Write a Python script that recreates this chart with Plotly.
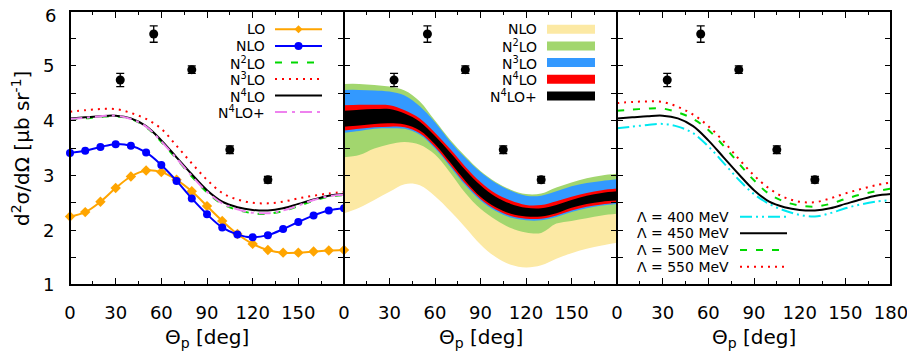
import plotly.graph_objects as go

# ---------------- data ----------------
theta = [0, 10, 20, 30, 40, 50, 60, 70, 80, 90, 100, 110, 120, 130, 140, 150, 160, 170, 180]

# left panel: order-by-order predictions
lo    = [2.25, 2.33, 2.52, 2.77, 2.98, 3.09, 3.06, 2.92, 2.71, 2.44, 2.17, 1.93, 1.75, 1.64, 1.59, 1.59, 1.61, 1.63, 1.64]
nlo   = [3.41, 3.45, 3.52, 3.57, 3.54, 3.42, 3.19, 2.90, 2.58, 2.29, 2.05, 1.92, 1.87, 1.91, 2.02, 2.15, 2.27, 2.36, 2.40]
n2lo  = [4.02, 4.04, 4.07, 4.08, 4.03, 3.88, 3.61, 3.30, 2.98, 2.69, 2.48, 2.37, 2.31, 2.30, 2.35, 2.44, 2.54, 2.61, 2.64]
n3lo  = [4.16, 4.19, 4.21, 4.21, 4.14, 4.03, 3.85, 3.54, 3.22, 2.92, 2.68, 2.56, 2.50, 2.49, 2.52, 2.58, 2.63, 2.67, 2.70]
n4lo  = [4.04, 4.06, 4.08, 4.09, 4.04, 3.90, 3.64, 3.33, 3.02, 2.73, 2.52, 2.42, 2.37, 2.36, 2.40, 2.48, 2.56, 2.63, 2.66]
n4lop = [4.03, 4.05, 4.08, 4.09, 4.03, 3.89, 3.62, 3.31, 2.99, 2.70, 2.49, 2.38, 2.32, 2.31, 2.36, 2.45, 2.55, 2.62, 2.65]

# middle panel: truncation-error bands (low / high edges)
nlo_band_lo   = [2.31, 2.41, 2.55, 2.70, 2.84, 2.82, 2.62, 2.35, 2.05, 1.74, 1.51, 1.37, 1.32, 1.36, 1.48, 1.58, 1.66, 1.72, 1.77]
nlo_band_hi   = [4.60, 4.60, 4.58, 4.55, 4.48, 4.28, 3.98, 3.63, 3.32, 3.06, 2.86, 2.71, 2.62, 2.62, 2.70, 2.80, 2.87, 2.92, 2.95]
n2lo_band_lo  = [3.33, 3.37, 3.49, 3.57, 3.61, 3.56, 3.38, 3.05, 2.68, 2.39, 2.19, 2.04, 1.96, 1.95, 2.12, 2.17, 2.22, 2.27, 2.30]
n2lo_band_hi  = [4.67, 4.67, 4.65, 4.62, 4.55, 4.35, 4.00, 3.65, 3.35, 3.08, 2.88, 2.74, 2.66, 2.67, 2.78, 2.87, 2.95, 3.00, 3.03]
n3lo_band_lo  = [3.78, 3.81, 3.85, 3.86, 3.85, 3.74, 3.49, 3.16, 2.82, 2.54, 2.35, 2.23, 2.18, 2.18, 2.24, 2.33, 2.40, 2.45, 2.48]
n3lo_band_hi  = [4.56, 4.56, 4.55, 4.53, 4.46, 4.26, 3.97, 3.62, 3.32, 3.06, 2.86, 2.72, 2.63, 2.63, 2.71, 2.80, 2.86, 2.90, 2.93]
n4lo_band_lo  = [3.82, 3.85, 3.88, 3.89, 3.88, 3.77, 3.52, 3.19, 2.85, 2.57, 2.38, 2.26, 2.21, 2.21, 2.27, 2.36, 2.43, 2.47, 2.50]
n4lo_band_hi  = [4.28, 4.29, 4.29, 4.28, 4.19, 4.04, 3.78, 3.48, 3.16, 2.88, 2.67, 2.54, 2.46, 2.46, 2.53, 2.61, 2.68, 2.73, 2.76]
n4lop_band_lo = [3.89, 3.91, 3.94, 3.95, 3.93, 3.82, 3.57, 3.24, 2.90, 2.61, 2.42, 2.30, 2.25, 2.25, 2.31, 2.41, 2.48, 2.52, 2.54]
n4lop_band_hi = [4.18, 4.20, 4.21, 4.21, 4.13, 3.98, 3.72, 3.42, 3.10, 2.82, 2.61, 2.48, 2.41, 2.40, 2.46, 2.55, 2.63, 2.68, 2.71]

# right panel: cutoff dependence
lam400 = [3.86, 3.89, 3.92, 3.94, 3.89, 3.77, 3.53, 3.23, 2.92, 2.66, 2.48, 2.36, 2.28, 2.25, 2.31, 2.40, 2.47, 2.52, 2.55]
lam450 = [4.04, 4.06, 4.08, 4.09, 4.04, 3.90, 3.64, 3.33, 3.02, 2.73, 2.52, 2.42, 2.37, 2.36, 2.40, 2.48, 2.56, 2.63, 2.66]
lam500 = [4.18, 4.20, 4.22, 4.22, 4.15, 4.03, 3.83, 3.54, 3.22, 2.91, 2.66, 2.52, 2.45, 2.43, 2.48, 2.57, 2.65, 2.71, 2.76]
lam550 = [4.32, 4.34, 4.35, 4.34, 4.25, 4.11, 3.90, 3.62, 3.30, 3.00, 2.76, 2.60, 2.52, 2.51, 2.58, 2.67, 2.75, 2.82, 2.87]

# experimental data
exp_theta = [33, 55, 80, 105, 130]
exp_val   = [4.74, 5.58, 4.93, 3.47, 2.92]
exp_err   = [0.12, 0.15, 0.07, 0.07, 0.06]

# ticks / labels
x_tickvals_ab = [0, 30, 60, 90, 120, 150]
x_tickvals_c  = [0, 30, 60, 90, 120, 150, 180]
x_minor       = [15, 45, 75, 105, 135, 165]
y_tickvals    = [1, 1.5, 2, 2.5, 3, 3.5, 4, 4.5, 5, 5.5, 6]
y_ticktext    = ["1", "", "2", "", "3", "", "4", "", "5", "", ""]
y_top_label   = "6"          # drawn separately so it is not cut by the page edge

legend1 = ["LO", "NLO", "N<sup>2</sup>LO", "N<sup>3</sup>LO", "N<sup>4</sup>LO", "N<sup>4</sup>LO+"]
legend2 = ["NLO", "N<sup>2</sup>LO", "N<sup>3</sup>LO", "N<sup>4</sup>LO", "N<sup>4</sup>LO+"]
legend3 = ["Λ = 400 MeV", "Λ = 450 MeV", "Λ = 500 MeV", "Λ = 550 MeV"]

# ---------------- styling ----------------
FONT = "DejaVu Sans"
OFF = 8                      # page offset of the figure (body margin)
W, H = 915 - OFF, 354 - OFF
PL, PR, PT, PB = 70, 891, 11, 285   # plot area in page pixels
ML, MR, MT, MB = PL - OFF, W - (PR - OFF), PT - OFF, H - (PB - OFF)
PW = PR - PL
PH = PB - PT
b1 = (344 - PL) / PW
b2 = (617 - PL) / PW

def xp(px):
    return (px - PL) / PW

def yp(py):
    return (PB - py) / PH

C_LO = "#FFA500"
C_NLO = "#0000FF"
C_N2 = "#00D800"
C_N3 = "#FF0000"
C_N4 = "#000000"
C_N4P = "#EE82EE"
C_CYAN = "#00E8F0"
BAND = ["#FCE9A4", "#A2D66E", "#3399FF", "#FF0000", "#000000"]

DASH_N2 = "7px,9px"
DASH_N3 = "2px,5px"
DASH_N4P = "12px,5px,3px,5px"
DASH_400 = "12px,4px,2px,4px,2px,4px"

fig = go.Figure()

# ---- panel 1 ----
fig.add_trace(go.Scatter(x=theta, y=lo, mode="lines+markers", line=dict(color=C_LO, width=2, shape="spline"),
                         marker=dict(symbol="diamond", size=8, color=C_LO), cliponaxis=False,
                         xaxis="x", yaxis="y", showlegend=False))
fig.add_trace(go.Scatter(x=theta, y=nlo, mode="lines+markers", line=dict(color=C_NLO, width=2, shape="spline"),
                         marker=dict(symbol="circle", size=8, color=C_NLO), cliponaxis=False,
                         xaxis="x", yaxis="y", showlegend=False))
for yy, col, dash in [(n3lo, C_N3, DASH_N3), (n2lo, C_N2, DASH_N2), (n4lo, C_N4, "solid"), (n4lop, C_N4P, DASH_N4P)]:
    fig.add_trace(go.Scatter(x=theta, y=yy, mode="lines", line=dict(color=col, width=2, dash=dash, shape="spline"),
                             xaxis="x", yaxis="y", showlegend=False))

# ---- panel 2 (bands) ----
bands = [(nlo_band_lo, nlo_band_hi), (n2lo_band_lo, n2lo_band_hi), (n3lo_band_lo, n3lo_band_hi),
         (n4lo_band_lo, n4lo_band_hi), (n4lop_band_lo, n4lop_band_hi)]
for (blo, bhi), col in zip(bands, BAND):
    fig.add_trace(go.Scatter(x=theta, y=blo, mode="lines", line=dict(width=0, shape="spline"),
                             xaxis="x2", yaxis="y2", showlegend=False, hoverinfo="skip"))
    fig.add_trace(go.Scatter(x=theta, y=bhi, mode="lines", line=dict(width=0, shape="spline"),
                             fill="tonexty", fillcolor=col,
                             xaxis="x2", yaxis="y2", showlegend=False))

# ---- panel 3 ----
for yy, col, dash in [(lam550, C_N3, DASH_N3), (lam500, C_N2, DASH_N2), (lam400, C_CYAN, DASH_400), (lam450, C_N4, "solid")]:
    fig.add_trace(go.Scatter(x=theta, y=yy, mode="lines", line=dict(color=col, width=2, dash=dash, shape="spline"),
                             xaxis="x3", yaxis="y3", showlegend=False))

# experimental points in all panels
for xa, ya in [("x", "y"), ("x2", "y2"), ("x3", "y3")]:
    fig.add_trace(go.Scatter(x=exp_theta, y=exp_val, mode="markers",
                             marker=dict(color="black", size=9, symbol="circle"),
                             error_y=dict(type="data", array=exp_err, visible=True, color="black", thickness=1.3, width=4),
                             xaxis=xa, yaxis=ya, showlegend=False))

# ---------------- axes ----------------
def xaxis(domain, tickvals, anchor):
    return dict(domain=domain, range=[0, 180], anchor=anchor, showline=True, linecolor="black", linewidth=1,
                mirror="ticks", ticks="inside", ticklen=7, tickwidth=1.2, tickcolor="black",
                tickmode="array", tickvals=tickvals, ticktext=[str(v) for v in tickvals],
                tickfont=dict(family=FONT, size=18, color="black"), ticklabelstandoff=11,
                minor=dict(tickvals=x_minor, ticks="inside", ticklen=4, tickwidth=1.2, tickcolor="black"),
                showgrid=False, zeroline=False, automargin=False, ticklabeloverflow="allow")

def yaxis(anchor, labels):
    return dict(range=[1, 6], anchor=anchor, showline=True, linecolor="black", linewidth=1,
                mirror="ticks", ticks="inside", ticklen=6, tickwidth=1.2, tickcolor="black",
                tickmode="array", tickvals=y_tickvals, ticktext=y_ticktext, showticklabels=labels,
                tickfont=dict(family=FONT, size=18, color="black"), ticklabelstandoff=11,
                showgrid=False, zeroline=False, domain=[0, 1], automargin=False, ticklabeloverflow="allow")

fig.update_layout(
    width=W, height=H, margin=dict(l=ML, r=MR, t=MT, b=MB, autoexpand=False),
    paper_bgcolor="white", plot_bgcolor="white", showlegend=False,
    font=dict(family=FONT, color="black"),
    xaxis=xaxis([0, b1], x_tickvals_ab, "y"),
    xaxis2=xaxis([b1, b2], x_tickvals_ab, "y2"),
    xaxis3=xaxis([b2, 1], x_tickvals_c, "y3"),
    yaxis=yaxis("x", True),
    yaxis2=yaxis("x2", False),
    yaxis3=yaxis("x3", False),
)

annotations = []
shapes = []

# frames
for xr, yr in [("x", "y"), ("x2", "y2"), ("x3", "y3")]:
    shapes.append(dict(type="rect", xref=xr + " domain", yref=yr + " domain", x0=0, x1=1, y0=0, y1=1,
                       line=dict(color="black", width=2), fillcolor="rgba(0,0,0,0)", layer="above"))

# top y tick label
annotations.append(dict(text=y_top_label, xref="paper", x=xp(57.5), yref="paper", y=yp(15.5),
                        xanchor="right", yanchor="middle", showarrow=False,
                        font=dict(family=FONT, size=18, color="black")))

# axis titles
for ref in ["x", "x2", "x3"]:
    annotations.append(dict(text="Θ<sub>p</sub> [deg]", xref=ref + " domain", x=0.5, yref="paper", y=yp(338),
                            xanchor="center", yanchor="middle", showarrow=False,
                            font=dict(family=FONT, size=20, color="black")))
annotations.append(dict(text="d<sup>2</sup>σ/dΩ [μb sr<sup>-1</sup>]", xref="paper", x=xp(21), yref="paper", y=yp(149),
                        textangle=-90, xanchor="center", yanchor="middle", showarrow=False,
                        font=dict(family=FONT, size=20, color="black")))

LFONT = dict(family=FONT, size=14, color="black")

# legend panel 1
rows1 = [29.3, 46.0, 62.5, 79.0, 95.5, 112.0]
styles1 = [(C_LO, "solid"), (C_NLO, "solid"), (C_N2, DASH_N2), (C_N3, DASH_N3), (C_N4, "solid"), (C_N4P, DASH_N4P)]
for i, (txt, ry, (col, dash)) in enumerate(zip(legend1, rows1, styles1)):
    annotations.append(dict(text=txt, xref="paper", yref="paper", x=xp(267), y=yp(ry), xanchor="right",
                            yanchor="middle", showarrow=False, font=LFONT))
    shapes.append(dict(type="line", xref="paper", yref="paper", x0=xp(275), x1=xp(322), y0=yp(ry), y1=yp(ry),
                       line=dict(color=col, width=2, dash=dash)))
    if i == 0:
        cx, cy, r = 298.5, ry, 4
        shapes.append(dict(type="path", xref="paper", yref="paper",
                           path=f"M {xp(cx - r)},{yp(cy)} L {xp(cx)},{yp(cy - r)} L {xp(cx + r)},{yp(cy)} L {xp(cx)},{yp(cy + r)} Z",
                           fillcolor=col, line=dict(color=col, width=0)))
    if i == 1:
        cx, cy, r = 298.5, ry, 4
        shapes.append(dict(type="circle", xref="paper", yref="paper", x0=xp(cx - r), x1=xp(cx + r),
                           y0=yp(cy + r), y1=yp(cy - r), fillcolor=col, line=dict(color=col, width=0)))

# legend panel 2
rows2 = [29.3, 46.0, 62.5, 79.3, 96.0]
for txt, ry, col in zip(legend2, rows2, BAND):
    annotations.append(dict(text=txt, xref="paper", yref="paper", x=xp(539), y=yp(ry), xanchor="right",
                            yanchor="middle", showarrow=False, font=LFONT))
    shapes.append(dict(type="rect", xref="paper", yref="paper", x0=xp(547), x1=xp(595),
                       y0=yp(ry + 4.5), y1=yp(ry - 4.5), fillcolor=col, line=dict(width=0)))

# legend panel 3
rows3 = [216.7, 233.3, 250.0, 266.7]
styles3 = [(C_CYAN, DASH_400), (C_N4, "solid"), (C_N2, DASH_N2), (C_N3, DASH_N3)]
for txt, ry, (col, dash) in zip(legend3, rows3, styles3):
    annotations.append(dict(text=txt, xref="paper", yref="paper", x=xp(731), y=yp(ry), xanchor="right",
                            yanchor="middle", showarrow=False, font=LFONT))
    shapes.append(dict(type="line", xref="paper", yref="paper", x0=xp(740), x1=xp(787), y0=yp(ry), y1=yp(ry),
                       line=dict(color=col, width=2, dash=dash)))

fig.update_layout(annotations=annotations, shapes=shapes)

fig.write_html("out.html")
